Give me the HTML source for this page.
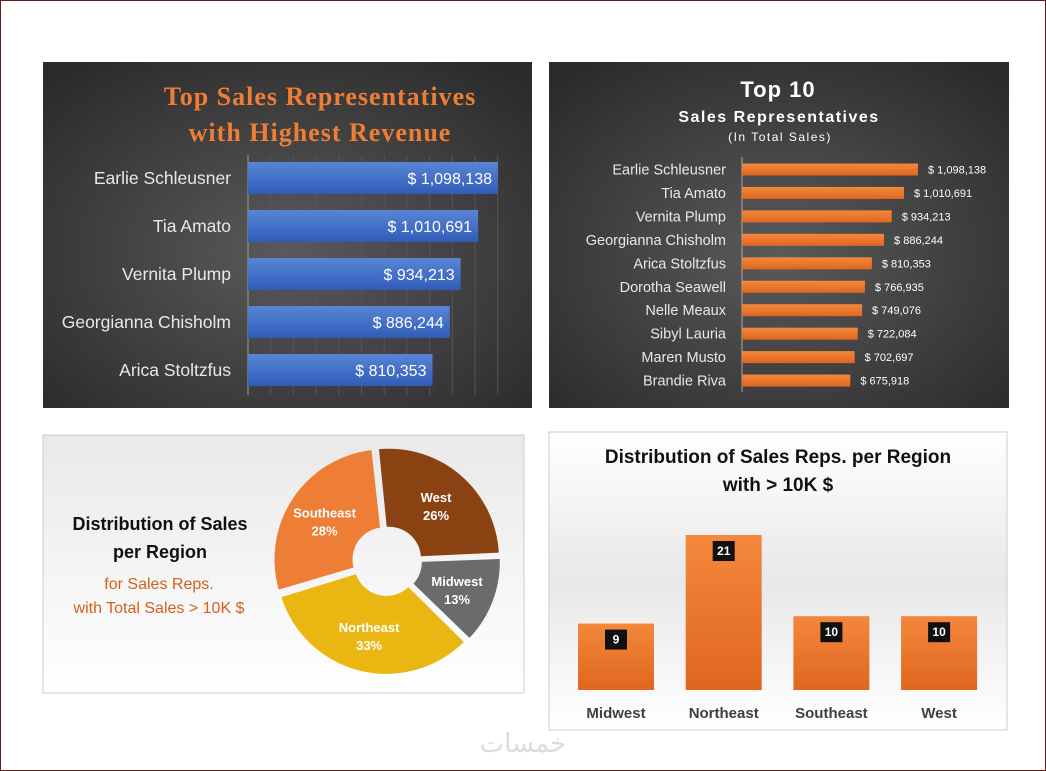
<!DOCTYPE html>
<html><head><meta charset="utf-8"><style>
html,body{margin:0;padding:0;background:#fff}
body{width:1046px;height:771px;position:relative;overflow:hidden;font-family:"Liberation Sans",sans-serif}
#frame{position:absolute;left:0;top:0;width:1044px;height:769px;border:1px solid #6b1a1a}
svg{position:absolute;left:0;top:0}
</style></head><body>
<div id="frame"></div>
<svg width="1046" height="771" id="s">
<defs>
<radialGradient id="dark" cx="50%" cy="55%" r="70%"><stop offset="0" stop-color="#5a5a5a"/><stop offset="1" stop-color="#2a2a2a"/></radialGradient>
<linearGradient id="blue" x1="0" y1="0" x2="0" y2="1"><stop offset="0" stop-color="#5a85d6"/><stop offset="1" stop-color="#2f5cb8"/></linearGradient>
<linearGradient id="orange" x1="0" y1="0" x2="0" y2="1"><stop offset="0" stop-color="#f4883c"/><stop offset="1" stop-color="#e0661f"/></linearGradient>
<linearGradient id="light" x1="0" y1="0" x2="0" y2="1"><stop offset="0" stop-color="#e9e9e9"/><stop offset="1" stop-color="#ffffff"/></linearGradient>
<linearGradient id="light2" x1="0" y1="0" x2="0" y2="1"><stop offset="0" stop-color="#ffffff"/><stop offset="0.5" stop-color="#e8e8e8"/><stop offset="1" stop-color="#ffffff"/></linearGradient>
</defs>
<rect x="43" y="62" width="489" height="346" fill="url(#dark)"/>
<rect x="549" y="62" width="460" height="346" fill="url(#dark)"/>
<rect x="43" y="435" width="481" height="258" fill="url(#light)" stroke="#ccc"/>
<rect x="549" y="432" width="458" height="298" fill="url(#light2)" stroke="#ccc"/>
<g id="g1"></g><g id="g2"></g><g id="g3"></g><g id="g4"></g>
<text x="320" y="105" text-anchor="middle" font-family="Liberation Serif,serif" font-weight="bold" font-size="26" letter-spacing="1" fill="#ee7d35">Top Sales Representatives</text>
<text x="320" y="141" text-anchor="middle" font-family="Liberation Serif,serif" font-weight="bold" font-size="26" letter-spacing="1" fill="#ee7d35">with Highest Revenue</text>
<text x="778" y="97" text-anchor="middle" font-weight="bold" font-size="22" fill="#fff" letter-spacing="1">Top 10</text>
<text x="779" y="122" text-anchor="middle" font-weight="bold" font-size="16" fill="#fff" letter-spacing="1.5">Sales Representatives</text>
<text x="780" y="141" text-anchor="middle" font-size="12" fill="#fff" letter-spacing="1.5">(In Total Sales)</text>
<text x="160" y="530" text-anchor="middle" font-weight="bold" font-size="18" fill="#111">Distribution  of Sales</text>
<text x="160" y="558" text-anchor="middle" font-weight="bold" font-size="18" fill="#111">per Region</text>
<text x="159" y="589" text-anchor="middle" font-size="16" fill="#d4601c">for Sales Reps.</text>
<text x="159" y="613" text-anchor="middle" font-size="16" fill="#d4601c">with Total Sales &gt; 10K $</text>
<text x="778" y="463" text-anchor="middle" font-weight="bold" font-size="19" fill="#111">Distribution  of Sales Reps. per Region</text>
<text x="778" y="491" text-anchor="middle" font-weight="bold" font-size="19" fill="#111">with &gt; 10K $</text>
<text x="523" y="752" text-anchor="middle" font-family="DejaVu Sans,sans-serif" font-size="26" fill="#dcdcdc">خمسات</text>
</svg>
<script>
const names5=["Earlie Schleusner","Tia Amato","Vernita Plump","Georgianna Chisholm","Arica Stoltzfus"];
const vals5=[1098138,1010691,934213,886244,810353];
const names10=["Earlie Schleusner","Tia Amato","Vernita Plump","Georgianna Chisholm","Arica Stoltzfus","Dorotha Seawell","Nelle Meaux","Sibyl Lauria","Maren Musto","Brandie Riva"];
const vals10=[1098138,1010691,934213,886244,810353,766935,749076,722084,702697,675918];
const regions=["West","Midwest","Northeast","Southeast"];
const shares=[26,13,33,28];
const colRegions=["Midwest","Northeast","Southeast","West"];
const colCounts=[9,21,10,10];
const NS="http://www.w3.org/2000/svg";
function mk(p,t,a,txt){const e=document.createElementNS(NS,t);for(const k in a)e.setAttribute(k,a[k]);if(txt!=null)e.textContent=txt;p.appendChild(e);return e;}
const fmt=v=>v.toLocaleString('en-US');
// chart 1
const g1=document.getElementById('g1');
const x1=v=>248+v*250/1098138;
for(let i=1;i<=11;i++){const l=mk(g1,'line',{x1:248+i*22.7,x2:248+i*22.7,y1:155,y2:395,stroke:'#555','stroke-width':1});

}
mk(g1,'line',{x1:248,x2:248,y1:155,y2:395,stroke:'#999'});
names5.forEach((n,i)=>{const cy=178+i*48;
const r=mk(g1,'rect',{x:248,y:cy-16,width:x1(vals5[i])-248,height:32,fill:'url(#blue)'});


const t=mk(g1,'text',{x:231,y:cy+6,'text-anchor':'end','font-size':17.5,fill:'#e8e8e8'},n);


const v=mk(g1,'text',{x:x1(vals5[i])-6,y:cy+6,'text-anchor':'end','font-size':16,fill:'#fff','xml:space':'preserve'},'$  '+fmt(vals5[i]));

});
// chart 2
const g2=document.getElementById('g2');
const x2=v=>742+v*176/1098138;
mk(g2,'line',{x1:742,x2:742,y1:157,y2:392,stroke:'#aaa'});
names10.forEach((n,i)=>{const cy=169.5+i*23.45;
const r=mk(g2,'rect',{x:742,y:cy-6,width:x2(vals10[i])-742,height:12,fill:'url(#orange)'});


const t=mk(g2,'text',{x:726,y:cy+5,'text-anchor':'end','font-size':14.5,fill:'#e8e8e8'},n);


const v=mk(g2,'text',{x:x2(vals10[i])+10,y:cy+4,'font-size':11,fill:'#fff','xml:space':'preserve'},'$  '+fmt(vals10[i]));

});
// pie
const g3=document.getElementById('g3');
const cx=387,cy=561,R=110,r0=32;
const cols=["#8a4213","#6b6b6b","#eab611","#ee7d35"];
const tot=shares.reduce((a,b)=>a+b,0);
let a=-6;
shares.forEach((s,i)=>{const sw=s/tot*360,a0=a,a1=a+sw;a=a1;
const mid=(a0+a1)/2*Math.PI/180,ox=3*Math.sin(mid),oy=-3*Math.cos(mid);
const P=(ang,rr)=>[cx+ox+rr*Math.sin(ang*Math.PI/180),cy+oy-rr*Math.cos(ang*Math.PI/180)];
const A=P(a0+0.8,R),B=P(a1-0.8,R),C=P(a1-2,r0),D=P(a0+2,r0),lg=sw>180?1:0;
const p=mk(g3,'path',{d:`M${A}A${R},${R} 0 ${lg} 1 ${B}L${C}A${r0},${r0} 0 ${lg} 0 ${D}Z`,fill:cols[i]});


const L=P((a0+a1)/2,72);
const t=mk(g3,'text',{x:L[0],y:L[1]-2,'text-anchor':'middle','font-size':13,'font-weight':'bold',fill:'#fff'},regions[i]);


const t2=mk(g3,'text',{x:L[0],y:L[1]+16,'text-anchor':'middle','font-size':13,'font-weight':'bold',fill:'#fff'},s+'%');

});
// columns
const g4=document.getElementById('g4');
const yb=690,k=155/21;
colRegions.forEach((n,i)=>{const x=578+i*107.7,h=colCounts[i]*k;
const r=mk(g4,'rect',{x:x,y:yb-h,width:76,height:h,fill:'url(#orange)'});


const lb=mk(g4,'rect',{x:x+27,y:yb-h+6,width:22,height:20,fill:'#111'});


const v=mk(g4,'text',{x:x+38,y:yb-h+20,'text-anchor':'middle','font-size':12,'font-weight':'bold',fill:'#fff'},colCounts[i]);


const t=mk(g4,'text',{x:x+38,y:718,'text-anchor':'middle','font-size':15,'font-weight':'bold',fill:'#404040'},n);

});
</script>
</body></html>
